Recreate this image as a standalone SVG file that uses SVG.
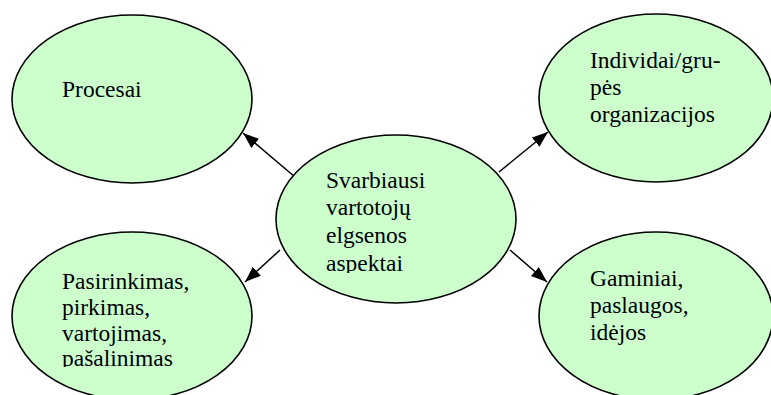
<svg xmlns="http://www.w3.org/2000/svg" width="771" height="395" viewBox="0 0 771 395">
<style>
.node ellipse{fill:#CCFFCC;stroke:#000;stroke-width:1.6}
.node text{font-family:"Liberation Serif","Times New Roman",serif;font-size:23.5px;fill:#000}
.conn line{stroke:#000;stroke-width:1.5}
</style>
<defs>
<marker id="ah" viewBox="0 0 16 12" refX="16" refY="6" markerWidth="16" markerHeight="12" markerUnits="userSpaceOnUse" orient="auto">
<path d="M0,0 L16,6 L0,12 Z" fill="#000"/>
</marker>
<clipPath id="cc"><rect x="300" y="160" width="200" height="113"/></clipPath>
<clipPath id="cp"><rect x="40" y="260" width="200" height="107"/></clipPath>
</defs>
<rect width="771" height="395" fill="#fff"/>
<g class="conn">
<line x1="295" y1="177" x2="243" y2="133" marker-end="url(#ah)"/>
<line x1="280" y1="250" x2="245" y2="282" marker-end="url(#ah)"/>
<line x1="499" y1="172" x2="548" y2="132" marker-end="url(#ah)"/>
<line x1="510" y1="250" x2="547" y2="282" marker-end="url(#ah)"/>
</g>
<g id="procesai" class="node">
<ellipse cx="132" cy="99" rx="120" ry="84"/>
<text x="62" y="97">Procesai</text>
</g>
<g id="individai" class="node">
<ellipse cx="656" cy="98" rx="117" ry="84"/>
<text x="590" y="68">Individai/gru-</text>
<text x="590" y="95">pės</text>
<text x="590" y="122">organizacijos</text>
</g>
<g id="pasirinkimas" class="node">
<ellipse cx="132" cy="316" rx="120" ry="84"/>
<g clip-path="url(#cp)">
<text x="62" y="289">Pasirinkimas,</text>
<text x="62" y="315">pirkimas,</text>
<text x="62" y="341">vartojimas,</text>
<text x="62" y="366">pašalinimas</text>
</g>
</g>
<g id="gaminiai" class="node">
<ellipse cx="656" cy="316" rx="117" ry="84"/>
<text x="590" y="286">Gaminiai,</text>
<text x="590" y="313">paslaugos,</text>
<text x="590" y="340">idėjos</text>
</g>
<g id="centras" class="node">
<ellipse cx="396" cy="219" rx="120" ry="84"/>
<g clip-path="url(#cc)">
<text x="326" y="188">Svarbiausi</text>
<text x="326" y="215">vartotojų</text>
<text x="326" y="243">elgsenos</text>
<text x="326" y="271">aspektai</text>
</g>
</g>
</svg>
